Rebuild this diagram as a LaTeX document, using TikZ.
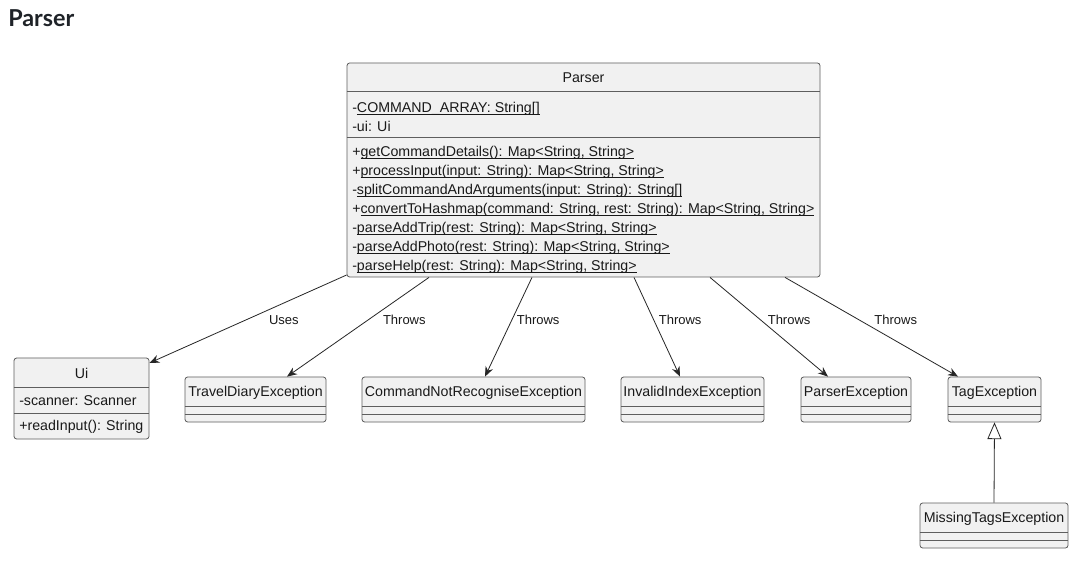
\documentclass[tikz,border=0pt]{standalone}
\usepackage{fontspec}
\setmainfont{Liberation Sans}
\newfontfamily\titlefont{Lato}
\usetikzlibrary{positioning,arrows.meta,fit}
\definecolor{umlfill}{HTML}{F1F1F1}
\definecolor{umlline}{HTML}{5E5E5E}
\definecolor{titlegray}{HTML}{1F2328}
\newcommand{\statm}[1]{\setbox0=\hbox{#1}\rlap{\rule[-1.6pt]{\wd0}{0.5pt}}\box0}

\begin{document}
\begin{tikzpicture}[x=0.75pt, y=-0.75pt,
    cls/.style={draw=umlline, fill=umlfill, rounded corners=2pt, line width=0.6pt, inner sep=0pt},
    sep/.style={draw=umlline, line width=0.6pt},
    txt/.style={font=\fontsize{10.65pt}{14.2pt}\selectfont, text=black!90, inner sep=0pt, align=left, anchor=west},
    hdr/.style={font=\fontsize{10.65pt}{12pt}\selectfont, text=black!90, inner sep=0pt},
    lbl/.style={font=\fontsize{9.75pt}{11pt}\selectfont, text=black!90, inner sep=0pt, anchor=west},
    dep/.style={-{Stealth[length=7.5pt,width=6pt,inset=2.5pt]}, line width=0.6pt, black!85},
    ext/.style={-{Triangle[open,length=12.5pt,width=10.5pt,fill=white]}, line width=0.6pt, black!85}]
    \path[use as bounding box, fill=white] (0,0) rectangle (1081,566);
    \node[anchor=base west, inner sep=0pt, text=titlegray,
          font=\titlefont\bfseries\fontsize{17.5pt}{20pt}\selectfont] (title) at (8,27) {Parser};

    % Parser class
    \node[cls, fit={(347,63) (820,277)}] (parser) {};
    \node[hdr] (parsername) at (583.5,77.5) {Parser};
    \draw[sep] (parser.west |- 0,91) -- (parser.east |- 0,91);
    \node[txt] (parserattr) at (352,117) {-\statm{COMMAND\_ARRAY: String[]}\\-ui: Ui};
    \draw[sep] (parser.west |- 0,137) -- (parser.east |- 0,137);
    \node[txt] (parsermeth) at (352,210) {+\statm{getCommandDetails(): Map<String, String>}\\
        +\statm{processInput(input: String): Map<String, String>}\\
        -\statm{splitCommandAndArguments(input: String): String[]}\\
        +\statm{convertToHashmap(command: String, rest: String): Map<String, String>}\\
        -\statm{parseAddTrip(rest: String): Map<String, String>}\\
        -\statm{parseAddPhoto(rest: String): Map<String, String>}\\
        -\statm{parseHelp(rest: String): Map<String, String>}};

    % Ui class
    \node[cls, fit={(14,358) (149,439)}] (ui) {};
    \node[hdr] (uiname) at (81.5,373.5) {Ui};
    \draw[sep] (ui.west |- 0,387) -- (ui.east |- 0,387);
    \node[txt] (uiattr) at (19,401) {-scanner: Scanner};
    \draw[sep] (ui.west |- 0,413) -- (ui.east |- 0,413);
    \node[txt] (uimeth) at (19,427) {+readInput(): String};

    % exceptions
    \node[cls, fit={(185,377) (326,422)}] (tde) {};
    \node[hdr] (tdename) at (255.5,392.5) {TravelDiaryException};
    \draw[sep] (tde.west |- 0,406) -- (tde.east |- 0,406);
    \draw[sep] (tde.west |- 0,414) -- (tde.east |- 0,414);

    \node[cls, fit={(362,377) (585,422)}] (cnre) {};
    \node[hdr] (cnrename) at (473.5,392.5) {CommandNotRecogniseException};
    \draw[sep] (cnre.west |- 0,406) -- (cnre.east |- 0,406);
    \draw[sep] (cnre.west |- 0,414) -- (cnre.east |- 0,414);

    \node[cls, fit={(621,377) (764,422)}] (iie) {};
    \node[hdr] (iiename) at (692.5,392.5) {InvalidIndexException};
    \draw[sep] (iie.west |- 0,406) -- (iie.east |- 0,406);
    \draw[sep] (iie.west |- 0,414) -- (iie.east |- 0,414);

    \node[cls, fit={(801,377) (911,422)}] (pe) {};
    \node[hdr] (pename) at (856,392.5) {ParserException};
    \draw[sep] (pe.west |- 0,406) -- (pe.east |- 0,406);
    \draw[sep] (pe.west |- 0,414) -- (pe.east |- 0,414);

    \node[cls, fit={(948,377) (1041,422)}] (te) {};
    \node[hdr] (tename) at (994.5,392.5) {TagException};
    \draw[sep] (te.west |- 0,406) -- (te.east |- 0,406);
    \draw[sep] (te.west |- 0,414) -- (te.east |- 0,414);

    \node[cls, fit={(920,503) (1068,548)}] (mte) {};
    \node[hdr] (mtename) at (994,518.5) {MissingTagsException};
    \draw[sep] (mte.west |- 0,532) -- (mte.east |- 0,532);
    \draw[sep] (mte.west |- 0,540) -- (mte.east |- 0,540);

    % connectors
    \draw[dep] (parser.west |- 0,275) -- (ui.east |- 0,363)
        node[lbl, pos=0.51, xshift=17pt] {Uses};
    \draw[dep] (parser.south -| 429,0) -- (tde.north -| 287,0)
        node[lbl, pos=0.43, xshift=11pt] {Throws};
    \draw[dep] (parser.south -| 532,0) -- (cnre.north -| 485,0)
        node[lbl, pos=0.43, xshift=3.5pt] {Throws};
    \draw[dep] (parser.south -| 634,0) -- (iie.north -| 680,0)
        node[lbl, pos=0.43, xshift=3.5pt] {Throws};
    \draw[dep] (parser.south -| 710,0) -- (pe.north -| 828,0)
        node[lbl, pos=0.43, xshift=5pt] {Throws};
    \draw[dep] (parser.south -| 785,0) -- (te.north -| 958,0)
        node[lbl, pos=0.43, xshift=11pt] {Throws};
    \draw[ext] (mte.north) -- (te.south);
\end{tikzpicture}
\end{document}
